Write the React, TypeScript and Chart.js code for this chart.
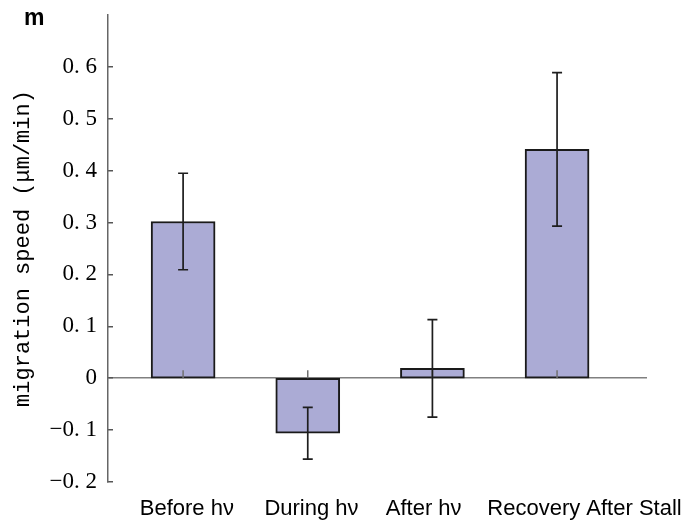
import React, { useEffect, useRef } from "react";
import { Chart, registerables } from "chart.js";

Chart.register(...registerables);

const categories = ["Before h\u03BD", "During h\u03BD", "After h\u03BD", "Recovery After Stall"];
const speeds = [0.302, -0.106, 0.019, 0.441];
const errors = [0.093, 0.05, 0.094, 0.148];
const yMin = -0.2;
const yMax = 0.7;
const yStep = 0.1;
const yLabelMax = 0.6;
const yTitle = "migration speed (\u03BCm/min)";
const panelLabel = "m";
// small horizontal nudges of the category labels (in category units), layout only
const labelNudge = [0.03, 0.03, -0.07, 0.22];

function formatTick(v: number): string {
  if (v > yLabelMax + 1e-6) return "";
  if (Math.abs(v) < 1e-9) return "0";
  const s = Math.abs(v).toFixed(1).replace(".", ". ");
  return v < 0 ? "\u2212" + s : s;
}

const errorBarPlugin = {
  id: "errorBars",
  afterDatasetsDraw(chart: any) {
    const { ctx, scales } = chart;
    const x = scales.x;
    const y = scales.y;
    const y0 = y.getPixelForValue(0);
    ctx.save();
    ctx.strokeStyle = "#707070";
    ctx.lineWidth = 1.5;
    categories.forEach((_, i) => {
      const px = x.getPixelForValue(i);
      ctx.beginPath();
      ctx.moveTo(px, y0);
      ctx.lineTo(px, y0 - 8);
      ctx.stroke();
    });
    ctx.strokeStyle = "#1e1e1e";
    ctx.lineWidth = 1.7;
    speeds.forEach((v, i) => {
      const px = x.getPixelForValue(i);
      const top = y.getPixelForValue(v + errors[i]);
      const bot = y.getPixelForValue(v - errors[i]);
      ctx.beginPath();
      ctx.moveTo(px, top);
      ctx.lineTo(px, bot);
      ctx.moveTo(px - 5, top);
      ctx.lineTo(px + 5, top);
      ctx.moveTo(px - 5, bot);
      ctx.lineTo(px + 5, bot);
      ctx.stroke();
    });
    ctx.restore();
  },
  afterDraw(chart: any) {
    const { ctx } = chart;
    ctx.save();
    ctx.fillStyle = "#000";
    ctx.font = "bold 23px 'Liberation Sans', Arial, sans-serif";
    ctx.textBaseline = "alphabetic";
    ctx.textAlign = "left";
    ctx.fillText(panelLabel, 24, 25);
    ctx.restore();
  },
};

export default function App() {
  const ref = useRef<HTMLCanvasElement | null>(null);
  useEffect(() => {
    if (!ref.current) return;
    const chart = new Chart(ref.current, {
      type: "bar",
      data: {
        datasets: [
          {
            data: speeds.map((v, i) => ({ x: i, y: v })),
            backgroundColor: "#ABABD5",
            borderColor: "#1a1a1a",
            borderWidth: 2,
            borderSkipped: false,
            barThickness: 64,
          },
        ],
      },
      options: {
        animation: false,
        responsive: true,
        maintainAspectRatio: false,
        devicePixelRatio: 1,
        layout: { padding: { top: 15, right: 37, left: 8, bottom: 0 } },
        plugins: { legend: { display: false }, tooltip: { enabled: false }, title: { display: false } },
        scales: {
          x: {
            type: "linear",
            position: "bottom",
            offset: false,
            min: -0.6025,
            max: 3.7215,
            grid: { display: false, drawTicks: false },
            border: { display: false },
            afterBuildTicks: (s: any) => {
              s.ticks = categories.map((_, i) => ({ value: i + labelNudge[i] }));
            },
            afterFit: (s: any) => {
              s.height = 41;
              s.paddingLeft = 0;
              s.paddingRight = 0;
            },
            ticks: {
              autoSkip: false,
              maxRotation: 0,
              minRotation: 0,
              padding: 14,
              color: "#000",
              font: { family: "'Liberation Sans', Arial, sans-serif", size: 22 },
              callback: (_v: any, index: number) => categories[index] ?? "",
            },
          },
          y: {
            min: yMin,
            max: yMax,
            afterFit: (s: any) => {
              s.width = 100;
              s.paddingTop = 0;
              s.paddingBottom = 0;
            },
            grid: {
              drawOnChartArea: true,
              drawTicks: true,
              tickLength: -5,
              lineWidth: 1.5,
              color: (c: any) => (Math.abs(c.tick.value) < 1e-9 ? "#808080" : "rgba(0,0,0,0)"),
              tickColor: (c: any) => (c.tick.value > yLabelMax + 1e-6 ? "rgba(0,0,0,0)" : "#555"),
            },
            border: { display: true, color: "#666", width: 1.5 },
            title: {
              display: true,
              text: yTitle,
              color: "#000",
              padding: { top: 2, bottom: 0 },
              font: { family: "'Liberation Mono', monospace", size: 22, weight: "normal" },
            },
            ticks: {
              stepSize: yStep,
              padding: 16,
              color: "#000",
              font: { family: "'Liberation Serif', 'Times New Roman', serif", size: 23 },
              callback: (v: any) => formatTick(Number(v)),
            },
          },
        },
      },
      plugins: [errorBarPlugin],
    });
    return () => chart.destroy();
  }, []);
  return (
    <div style={{ position: "absolute", left: 0, top: 0, width: 684, height: 523 }}>
      <canvas ref={ref} />
    </div>
  );
}
